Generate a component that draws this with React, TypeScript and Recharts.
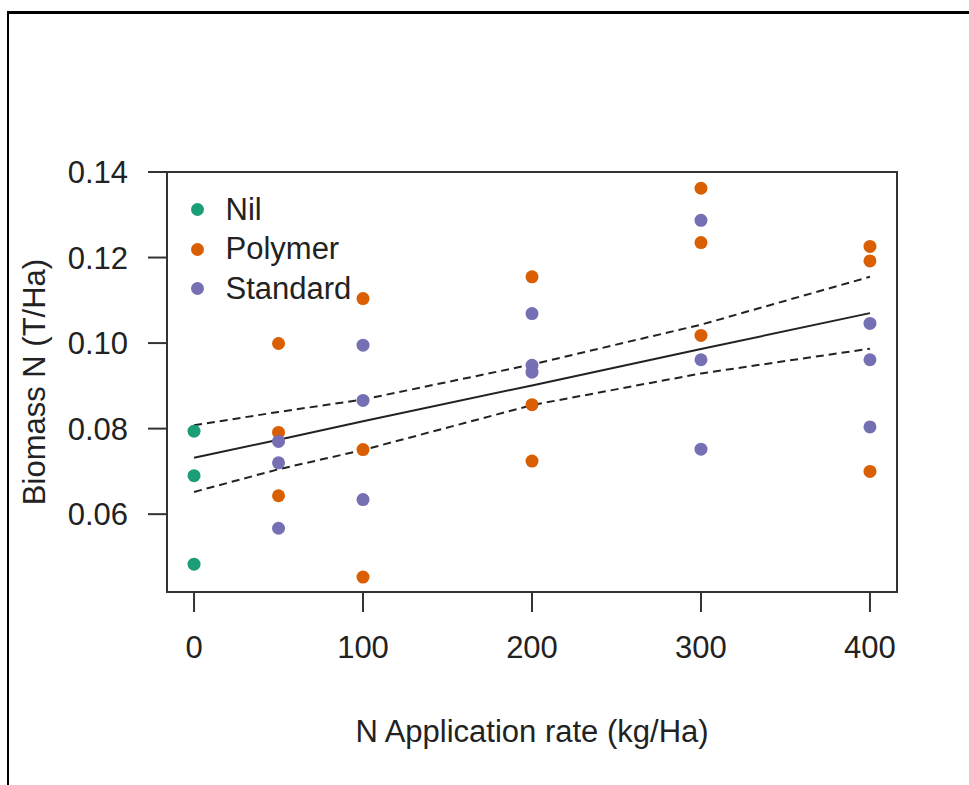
import { ComposedChart, Legend, Line, ReferenceArea, Scatter, XAxis, YAxis } from 'recharts'

const FONT = '"Liberation Sans", Arial, sans-serif'
const INK = '#222'

const NIL = '#1b9e77'
const POLYMER = '#d95f02'
const STANDARD = '#7570b3'

// observations, N rate (kg/Ha) and biomass N (T/Ha)
const nilRate = [0, 0, 0]
const nilN = [0.0794, 0.069, 0.0483]

const polymerRate = [50, 50, 50, 100, 100, 100, 200, 200, 200, 300, 300, 300, 400, 400, 400]
const polymerN = [0.0999, 0.0791, 0.0643, 0.1104, 0.0751, 0.0453, 0.1155, 0.0856, 0.0724, 0.1362, 0.1235, 0.1018, 0.1226, 0.1192, 0.07]

const standardRate = [50, 50, 50, 100, 100, 100, 200, 200, 200, 300, 300, 300, 400, 400, 400]
const standardN = [0.077, 0.072, 0.0567, 0.0995, 0.0866, 0.0634, 0.1069, 0.0948, 0.0932, 0.1287, 0.0961, 0.0752, 0.1046, 0.0961, 0.0804]

// regression line and confidence band
const fitRate = [0, 50, 100, 200, 300, 400]
const fitMid = [0.0732, 0.0774, 0.0817, 0.0901, 0.0986, 0.107]
const fitUpper = [0.0808, 0.0839, 0.0868, 0.095, 0.1043, 0.1155]
const fitLower = [0.0652, 0.0705, 0.075, 0.0855, 0.0929, 0.0987]

const xTicks = [0, 100, 200, 300, 400]
const yTicks = [0.06, 0.08, 0.1, 0.12, 0.14]

const X_DOMAIN: [number, number] = [-16, 416]
const Y_DOMAIN: [number, number] = [0.0418, 0.14]

const pts = (xs: number[], ys: number[]) => xs.map((x, i) => ({ x, y: ys[i] }))

const legendItems = [
  { name: 'Nil', color: NIL },
  { name: 'Polymer', color: POLYMER },
  { name: 'Standard', color: STANDARD },
]

function Dot(props: any) {
  const { cx, cy, fill } = props
  if (cx == null || cy == null) return null
  return <circle cx={cx} cy={cy} r={6.5} fill={fill} />
}

function LegendBox() {
  return (
    <div style={{ fontFamily: FONT, fontSize: 31, color: INK }}>
      {legendItems.map((it) => (
        <div key={it.name} style={{ display: 'flex', alignItems: 'center', height: 39.6 }}>
          <svg width={13} height={13} style={{ marginRight: 21.5 }}>
            <circle cx={6.5} cy={6.5} r={6.5} fill={it.color} />
          </svg>
          <span>{it.name}</span>
        </div>
      ))}
    </div>
  )
}

export default function App() {
  const tickStyle = { fill: INK, fontSize: 31, fontFamily: FONT }
  return (
    <div style={{ position: 'absolute', left: 0, top: 0, width: 969, height: 785, background: '#fff' }}>
      <div
        style={{
          position: 'absolute',
          left: 7,
          top: 11,
          width: 962,
          height: 774,
          borderTop: '3px solid #000',
          borderLeft: '2px solid #000',
          boxSizing: 'border-box',
        }}
      />
      <div style={{ position: 'absolute', left: 0, top: 0 }}>
        <ComposedChart width={969} height={785} margin={{ top: 172, right: 72, left: 0, bottom: 0 }}>
          <XAxis
            dataKey="x"
            type="number"
            domain={X_DOMAIN}
            ticks={xTicks}
            height={193}
            axisLine={false}
            tickSize={20}
            tickMargin={24}
            tickLine={{ stroke: '#333', strokeWidth: 2 }}
            tick={tickStyle}
            label={{
              content: () => (
                <text x={532} y={731} textAnchor="middle" dominantBaseline="central" fill={INK} fontSize={31} fontFamily={FONT}>
                  N Application rate (kg/Ha)
                </text>
              ),
            }}
          />
          <YAxis
            dataKey="y"
            type="number"
            domain={Y_DOMAIN}
            ticks={yTicks}
            width={167}
            axisLine={false}
            tickSize={19}
            tickMargin={20}
            tickLine={{ stroke: '#333', strokeWidth: 2 }}
            tick={tickStyle}
            tickFormatter={(v: number) => v.toFixed(2)}
            label={{
              content: () => (
                <text
                  x={34}
                  y={382}
                  transform="rotate(-90 34 382)"
                  textAnchor="middle"
                  dominantBaseline="central"
                  fill={INK}
                  fontSize={31}
                  fontFamily={FONT}
                >
                  Biomass N (T/Ha)
                </text>
              ),
            }}
          />
          <ReferenceArea x1={X_DOMAIN[0]} x2={X_DOMAIN[1]} y1={Y_DOMAIN[0]} y2={Y_DOMAIN[1]} fill="none" stroke="#333" strokeWidth={2} />
          <Line data={pts(fitRate, fitUpper)} dataKey="y" type="linear" stroke="#222" strokeWidth={2} strokeDasharray="8 5" dot={false} activeDot={false} isAnimationActive={false} />
          <Line data={pts(fitRate, fitMid)} dataKey="y" type="linear" stroke="#222" strokeWidth={2} dot={false} activeDot={false} isAnimationActive={false} />
          <Line data={pts(fitRate, fitLower)} dataKey="y" type="linear" stroke="#222" strokeWidth={2} strokeDasharray="8 5" dot={false} activeDot={false} isAnimationActive={false} />
          <Scatter data={pts(nilRate, nilN)} dataKey="y" fill={NIL} shape={<Dot />} isAnimationActive={false} />
          <Scatter data={pts(polymerRate, polymerN)} dataKey="y" fill={POLYMER} shape={<Dot />} isAnimationActive={false} />
          <Scatter data={pts(standardRate, standardN)} dataKey="y" fill={STANDARD} shape={<Dot />} isAnimationActive={false} />
          <Legend
            layout="vertical"
            align="center"
            verticalAlign="middle"
            content={() => <LegendBox />}
            wrapperStyle={{ position: 'absolute', left: 191, top: 190, width: 'auto' }}
          />
        </ComposedChart>
      </div>
    </div>
  )
}
